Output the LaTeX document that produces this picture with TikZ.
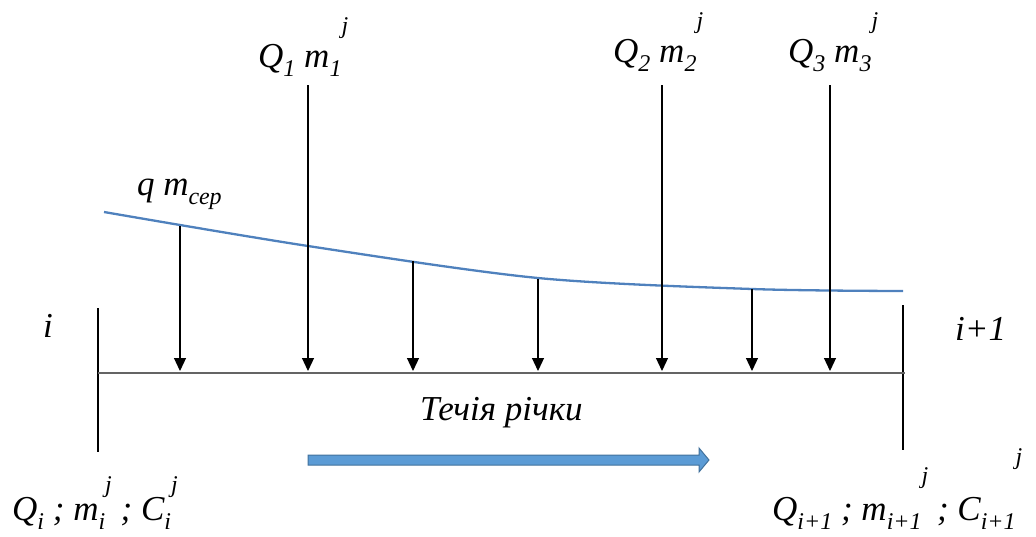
\documentclass[tikz,border=0pt]{standalone}
\usepackage{fontspec}
\setmainfont{LiberationSerif}[Extension=.ttf, UprightFont=*-Regular, ItalicFont=*-Italic, BoldFont=*-Bold, BoldItalicFont=*-BoldItalic]
\usetikzlibrary{arrows.meta}
\definecolor{rvblue}{RGB}{79,129,189}
\definecolor{rvfill}{RGB}{91,155,213}
\definecolor{rvedge}{RGB}{65,113,156}
\definecolor{rvgray}{RGB}{100,100,100}
\newcommand{\lo}[2][0.28em]{\raisebox{-#1}{\fontsize{24}{24}\selectfont #2}}
\newcommand{\hi}[2][0.95em]{\raisebox{#1}{\fontsize{24}{24}\selectfont #2}}
\tikzset{
    lbl/.style={font=\rmfamily\fontsize{35}{40}\selectfont\itshape, inner sep=0pt, anchor=base west},
    sect/.style={line width=1.2pt, black},
    riverline/.style={line width=1.2pt, rvgray},
    rivercurve/.style={line width=2.3pt, rvblue},
    load/.style={-{Triangle[length=13pt, width=12pt]}, line width=1.2pt, black},
    flowarrow/.style={draw=rvedge, fill=rvfill, line width=1pt, line join=miter},
}
\begin{document}
\begin{tikzpicture}[x=1pt, y=-1pt]
    \useasboundingbox (0,0) rectangle (1036,536);
    % sections
    \coordinate (lt) at (98,308);
    \coordinate (lb) at (98,452);
    \coordinate (rt) at (903,305);
    \coordinate (rb) at (903,450);
    \draw[sect] (lt) -- (lb);
    \draw[sect] (rt) -- (rb);
    \coordinate (l0) at (98,373);
    \coordinate (r0) at (905,373);
    \draw[riverline] (l0) -- (r0);
    % distributed inflow
    \draw[rivercurve] plot[smooth, tension=0.5] coordinates
        {(104,212) (308,246) (538,278) (752,289) (903,291)};
    \foreach \n/\x/\y in {a/180/226, b/308/85, c/413/261, d/538/279, e/662/85, f/752/289, g/830/85} {
        \coordinate (s\n) at (\x,\y);
        \coordinate (e\n) at (\x,371);
        \draw[load] (s\n) -- (e\n);
    }
    % labels
    \node[lbl] (q1) at (258,67) {Q\lo{1} m\lo{1}\hi{j}};
    \node[lbl] (q2) at (613,62) {Q\lo{2} m\lo{2}\hi{j}};
    \node[lbl] (q3) at (788,62) {Q\lo{3} m\lo{3}\hi{j}};
    \node[lbl] (qs) at (137,195) {q m\lo{сер}};
    \node[lbl] (ni) at (43,337) {i};
    \node[lbl] (ni1) at (955,340) {i+1};
    \node[lbl] (flow) at (420,420) {Течія річки};
    \node[lbl] (bl) at (12,520) {Q\lo{i} ; m\lo{i}\hi[0.8em]{j} ; C\lo{i}\hi[0.8em]{j}};
    \node[lbl] (br) at (772,520) {Q\lo{i+1} ; m\lo{i+1}\hi[1.05em]{j} ; C\lo{i+1}\hi[1.6em]{j}};
    % flow direction
    \coordinate (fa) at (308,455);
    \filldraw[flowarrow] (fa) -- ++(391,0) -- ++(0,-7) -- ++(10,12) -- ++(-10,12) -- ++(0,-7) -- ++(-391,0) -- cycle;
\end{tikzpicture}
\end{document}
